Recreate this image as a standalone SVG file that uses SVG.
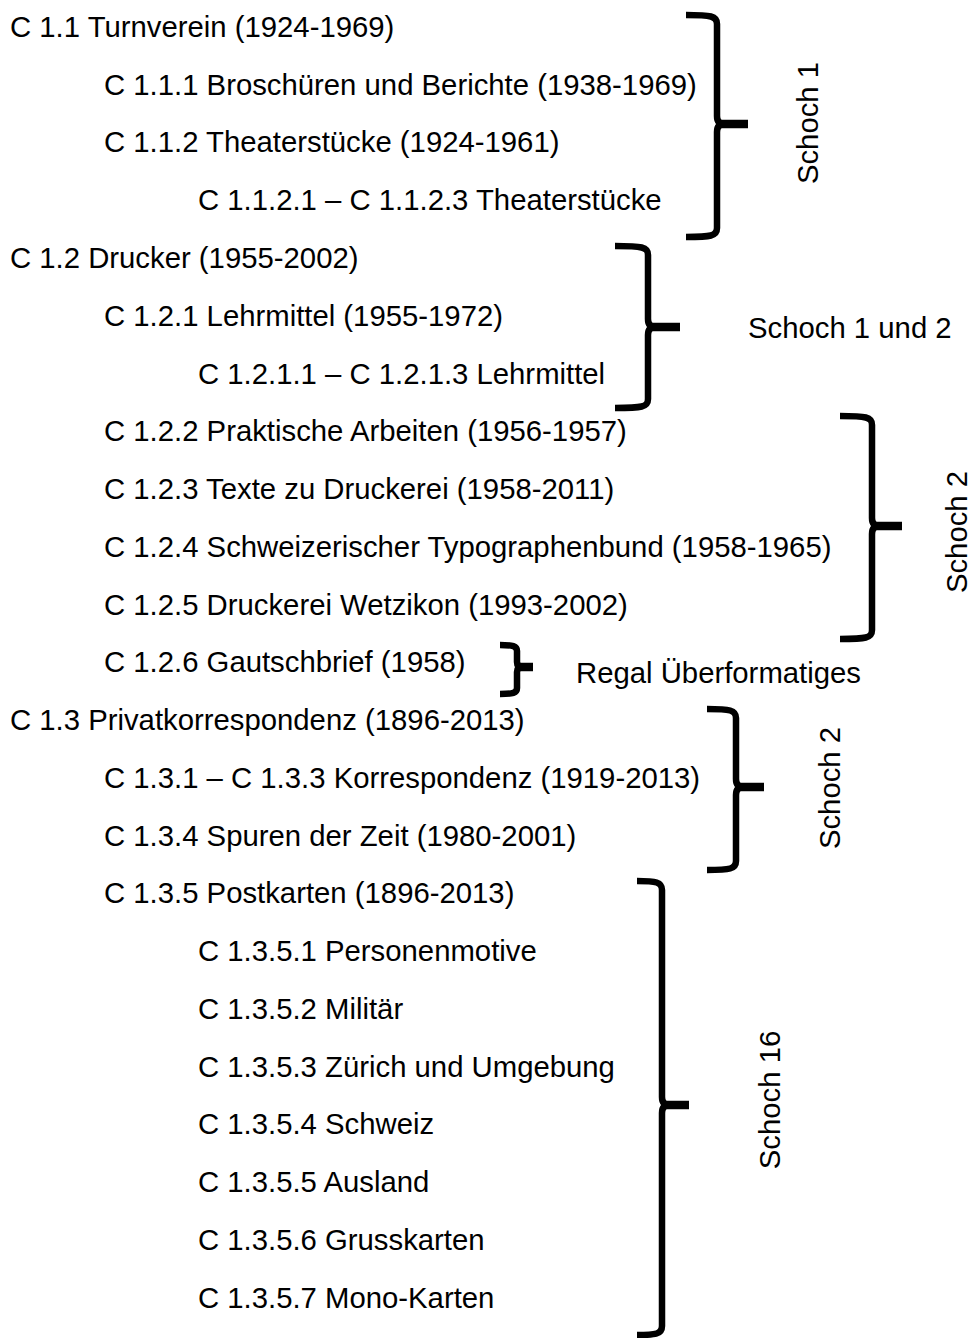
<svg xmlns="http://www.w3.org/2000/svg" width="971" height="1338" viewBox="0 0 971 1338">
<style>
text{font-family:"Liberation Sans",Arial,sans-serif;font-size:29.3px;fill:#000}
.br{fill:none;stroke:#000;stroke-width:6.5;stroke-linecap:butt;stroke-linejoin:round}
.tip{fill:none;stroke:#000;stroke-width:8.5;stroke-linecap:butt}
</style>
<rect width="971" height="1338" fill="#fff"/>
<g id="items">
<text x="10" y="37">C 1.1 Turnverein (1924-1969)</text>
<text x="104" y="95">C 1.1.1 Broschüren und Berichte (1938-1969)</text>
<text x="104" y="152">C 1.1.2 Theaterstücke (1924-1961)</text>
<text x="198" y="210">C 1.1.2.1 – C 1.1.2.3 Theaterstücke</text>
<text x="10" y="268">C 1.2 Drucker (1955-2002)</text>
<text x="104" y="326">C 1.2.1 Lehrmittel (1955-1972)</text>
<text x="198" y="384">C 1.2.1.1 – C 1.2.1.3 Lehrmittel</text>
<text x="104" y="441">C 1.2.2 Praktische Arbeiten (1956-1957)</text>
<text x="104" y="499">C 1.2.3 Texte zu Druckerei (1958-2011)</text>
<text x="104" y="557">C 1.2.4 Schweizerischer Typographenbund (1958-1965)</text>
<text x="104" y="615">C 1.2.5 Druckerei Wetzikon (1993-2002)</text>
<text x="104" y="672">C 1.2.6 Gautschbrief (1958)</text>
<text x="10" y="730">C 1.3 Privatkorrespondenz (1896-2013)</text>
<text x="104" y="788">C 1.3.1 – C 1.3.3 Korrespondenz (1919-2013)</text>
<text x="104" y="846">C 1.3.4 Spuren der Zeit (1980-2001)</text>
<text x="104" y="903">C 1.3.5 Postkarten (1896-2013)</text>
<text x="198" y="961">C 1.3.5.1 Personenmotive</text>
<text x="198" y="1019">C 1.3.5.2 Militär</text>
<text x="198" y="1077">C 1.3.5.3 Zürich und Umgebung</text>
<text x="198" y="1134">C 1.3.5.4 Schweiz</text>
<text x="198" y="1192">C 1.3.5.5 Ausland</text>
<text x="198" y="1250">C 1.3.5.6 Grusskarten</text>
<text x="198" y="1308">C 1.3.5.7 Mono-Karten</text>
</g>
<g id="braces">
<path class="br" d="M686 15 C711 15 717 16 717 24 L717 116 Q717 124 724 124 M724 124 Q717 124 717 132 L717 228 C717 236 711 237 686 237"/>
<path class="tip" d="M721 124 L748 124"/>
<path class="br" d="M615 246 C642 246 648 247 648 255 L648 319 Q648 327 655 327 M655 327 Q648 327 648 335 L648 399 C648 407 642 408 615 408"/>
<path class="tip" d="M652 327 L680 327"/>
<path class="br" d="M840 416 C866 416 872 417 872 425 L872 518 Q872 526 879 526 M879 526 Q872 526 872 534 L872 630 C872 638 866 639 840 639"/>
<path class="tip" d="M876 526 L902 526"/>
<path class="br" d="M500 645 C513 645 517 646 517 651 L517 662 Q517 667 522 667 M522 667 Q517 667 517 672 L517 688 C517 693 513 694 500 694"/>
<path class="tip" d="M520 667 L533 667"/>
<path class="br" d="M707 709 C730 709 736 710 736 718 L736 779 Q736 787 743 787 M743 787 Q736 787 736 795 L736 861 C736 869 730 870 707 870"/>
<path class="tip" d="M740 787 L764 787"/>
<path class="br" d="M637 881 C656 881 662 882 662 890 L662 1097 Q662 1105 669 1105 M669 1105 Q662 1105 662 1113 L662 1326 C662 1334 656 1335 637 1335"/>
<path class="tip" d="M666 1105 L689 1105"/>
</g>
<g id="labels">
<text transform="translate(808,123) rotate(-90)" y="10" text-anchor="middle">Schoch 1</text>
<text x="748" y="338">Schoch 1 und 2</text>
<text transform="translate(957,532) rotate(-90)" y="10" text-anchor="middle">Schoch 2</text>
<text x="576" y="683">Regal Überformatiges</text>
<text transform="translate(830,788) rotate(-90)" y="10" text-anchor="middle">Schoch 2</text>
<text transform="translate(770,1100) rotate(-90)" y="10" text-anchor="middle">Schoch 16</text>
</g>
</svg>
